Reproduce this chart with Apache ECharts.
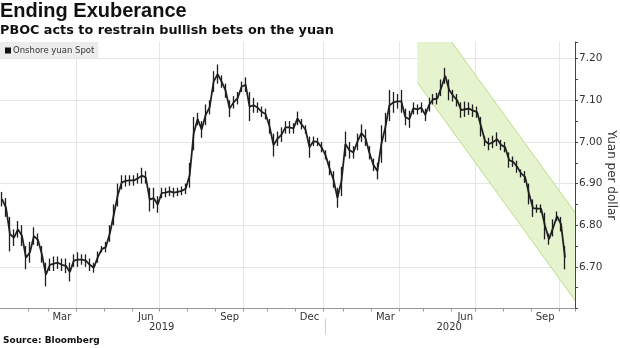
<!DOCTYPE html>
<html><head><meta charset="utf-8">
<script src="https://cdn.jsdelivr.net/npm/echarts@6/dist/echarts.min.js"></script>
<style>html,body{margin:0;padding:0;background:#fff}#c{width:620px;height:348px}</style>
</head><body><div id="c"></div>
<script>
const monthNames = ['Jan','Feb','Mar','Apr','May','Jun','Jul','Aug','Sep','Oct','Nov','Dec'];
// samples (columns) per month, Jan 2019 .. Oct 2020 (trading-day spaced axis)
const monthSamples = [7,5,7,7,7,7,7,7,7,6,7,7, 5,7,7,6,7,6,7,7,7,4];
const startYear = 2019;
const labelMonths = ['Mar','Jun','Sep','Dec'];
const gridMonths = ['Jan','Apr','Jul','Oct'];
const seriesName = 'Onshore yuan Spot';

const lo = [
6.845,6.82,6.737,6.75,6.77,6.75,6.694,6.71,6.753,6.75,
6.71,6.653,6.69,6.69,6.695,6.69,6.685,6.665,6.70,6.70,
6.705,6.70,6.69,6.686,6.71,6.735,6.735,6.76,6.80,6.845,
6.886,6.893,6.895,6.895,6.90,6.90,6.90,6.833,6.84,6.83,
6.865,6.867,6.87,6.867,6.87,6.872,6.875,6.89,6.98,7.04,
7.01,7.04,7.066,7.12,7.14,7.13,7.106,7.06,7.08,7.09,
7.12,7.12,7.05,7.07,7.07,7.06,7.054,7.02,6.965,6.99,
7.0,7.02,7.02,7.02,7.04,7.03,7.02,6.962,6.99,6.99,
6.975,6.958,6.92,6.89,6.842,6.87,6.965,6.96,6.96,6.98,
7.0,6.99,6.958,6.93,6.91,6.95,7.0,7.05,7.07,7.08,
7.07,7.04,7.034,7.066,7.066,7.07,7.05,7.073,7.09,7.09,
7.11,7.14,7.10,7.097,7.085,7.058,7.06,7.065,7.06,7.058,
7.013,6.99,6.98,6.985,6.99,6.98,6.975,6.938,6.94,6.926,
6.915,6.902,6.85,6.82,6.83,6.83,6.766,6.753,6.773,6.81,
6.785,6.694,null,null];
const hi = [
6.88,6.865,6.82,6.79,6.81,6.80,6.75,6.76,6.795,6.78,
6.75,6.71,6.72,6.725,6.725,6.72,6.72,6.71,6.73,6.735,
6.73,6.73,6.72,6.71,6.737,6.75,6.76,6.80,6.85,6.90,
6.92,6.92,6.92,6.92,6.925,6.938,6.93,6.89,6.89,6.87,
6.89,6.89,6.893,6.89,6.89,6.893,6.90,6.95,7.06,7.07,
7.05,7.09,7.10,7.17,7.186,7.16,7.14,7.10,7.11,7.12,
7.145,7.155,7.12,7.106,7.095,7.085,7.08,7.055,7.02,7.025,
7.035,7.05,7.05,7.045,7.073,7.055,7.04,7.013,7.013,7.01,
7.0,6.98,6.955,6.93,6.89,6.94,7.025,7.0,6.99,7.02,
7.042,7.03,6.99,6.96,6.95,7.04,7.07,7.125,7.12,7.115,
7.125,7.08,7.075,7.095,7.09,7.095,7.08,7.106,7.115,7.118,
7.15,7.178,7.15,7.125,7.115,7.095,7.097,7.095,7.09,7.085,
7.06,7.013,7.01,7.015,7.023,7.005,7.0,6.975,6.965,6.955,
6.934,6.93,6.90,6.862,6.85,6.85,6.83,6.78,6.814,6.833,
6.82,6.75,null,null];

// downward channel (parallelogram), x in column units
const bandX = [103.5, 143.5];
const bandLower = [7.143, 6.613];
const bandUpper = [7.354, 6.824];

// build category table
const categories = [];
const tickSet = new Set(), gridSet = new Set(), labelMap = {}, yearMap = {};
let sepIdx = 0;
const yearRange = {};
let idx = 0;
monthSamples.forEach((c, m) => {
  const year = startYear + Math.floor(m / 12);
  const name = monthNames[m % 12];
  if (idx > 0) tickSet.add(idx);
  if (idx > 0 && gridMonths.includes(name)) gridSet.add(idx);
  if (labelMonths.includes(name)) labelMap[idx + Math.floor(c / 2)] = name;
  if (!yearRange[year]) yearRange[year] = [idx, idx + c];
  yearRange[year][1] = idx + c;
  if (m === 12) sepIdx = idx;
  for (let k = 0; k < c; k++) {
    categories.push(year + '-' + String(m % 12 + 1).padStart(2, '0') + '-' + (k + 1));
  }
  idx += c;
});
Object.keys(yearRange).forEach(y => {
  const r = yearRange[y];
  yearMap[Math.floor((r[0] + r[1]) / 2)] = y;
});

const candle = lo.map((l, i) => (l == null ? '-' : [l, hi[i], l, hi[i]]));
const mid = lo.map((l, i) => (l == null ? '-' : (l + hi[i]) / 2));
const Y_MIN = 6.60, Y_MAX = 7.24;

const chart = echarts.init(document.getElementById('c'), null, {renderer: 'canvas'});
const FONT = 'DejaVu Sans';
chart.setOption({
  animation: false,
  backgroundColor: '#fff',
  title: [
    {text: 'Ending Exuberance', left: 0, top: 1, padding: 0,
     textStyle: {fontFamily: 'Liberation Sans', fontWeight: 'bold', fontSize: 20, color: '#111'}},
    {text: 'PBOC acts to restrain bullish bets on the yuan', left: 0, top: 24, padding: 0,
     textStyle: {fontFamily: FONT, fontWeight: 'bold', fontSize: 12.8, color: '#111'}},
    {text: 'Source: Bloomberg', left: 3, top: 336, padding: 0,
     textStyle: {fontFamily: FONT, fontWeight: 'bold', fontSize: 9, color: '#111'}}
  ],
  legend: {
    left: 0, top: 42, padding: [4, 4, 3, 5], backgroundColor: '#ececec',
    itemWidth: 6, itemHeight: 6, itemGap: 0, selectedMode: false,
    data: [{name: seriesName, icon: 'rect', itemStyle: {color: '#111', borderWidth: 0}}],
    textStyle: {fontFamily: FONT, fontSize: 8.5, color: '#333', padding: [0, 0, 0, -3]}
  },
  grid: {left: 0, right: 45, top: 42, bottom: 39.5, containLabel: false, outerBoundsMode: 'none'},
  xAxis: [
    {
      type: 'category', data: categories, boundaryGap: true,
      axisLine: {show: true, lineStyle: {color: '#999', width: 1}},
      axisTick: {show: true, length: 3, lineStyle: {color: '#999'}, interval: (i) => tickSet.has(i)},
      axisLabel: {interval: (i) => labelMap[i] !== undefined, formatter: (v, i) => labelMap[i] || '',
        margin: 4, fontFamily: FONT, fontSize: 10, color: '#333'},
      splitLine: {show: true, interval: (i) => gridSet.has(i), lineStyle: {color: '#e6e6e6', width: 1}}
    },
    {
      type: 'category', data: categories, boundaryGap: true, position: 'bottom', offset: 10,
      axisLine: {show: false},
      axisTick: {show: false},
      axisLabel: {interval: (i) => yearMap[i] !== undefined, formatter: (v, i) => yearMap[i] || '',
        margin: 4, fontFamily: FONT, fontSize: 10, color: '#333'},
      splitLine: {show: false}
    }
  ],
  yAxis: {
    type: 'value', position: 'right', min: Y_MIN, max: Y_MAX, interval: 0.1,
    name: 'Yuan per dollar', nameLocation: 'middle', nameRotate: -90, nameGap: 30,
    nameMoveOverlap: false,
    nameTextStyle: {fontFamily: FONT, fontSize: 12, color: '#333'},
    axisLine: {show: true, lineStyle: {color: '#444'}},
    axisTick: {show: true, length: 3, lineStyle: {color: '#444'}},
    minorTick: {show: true, splitNumber: 2, length: 3, lineStyle: {color: '#444'}},
    axisLabel: {margin: 4, fontFamily: FONT, fontSize: 10.5, color: '#333',
      formatter: (v) => {
        const r = Math.round(v * 10) / 10;
        return (Math.abs(v - r) < 1e-6 && v > 6.65) ? v.toFixed(2) : '';
      }},
    splitLine: {show: true, showMinLine: false, showMaxLine: false, lineStyle: {color: '#e6e6e6'}}
  },
  series: [
    {
      type: 'custom', name: 'channel', coordinateSystem: 'cartesian2d', clip: true, z: 1,
      silent: true,
      data: [[bandX[0], bandLower[0]]],
      renderItem: (params, api) => {
        const a = api.coord([bandX[0], bandLower[0]]);
        const b = api.coord([bandX[1], bandLower[1]]);
        const c = api.coord([bandX[1], bandUpper[1]]);
        const d = api.coord([bandX[0], bandUpper[0]]);
        return {type: 'group', children: [
          {type: 'polygon', shape: {points: [a, b, c, d]}, style: {fill: '#e6f3cf', stroke: null}},
          {type: 'line', shape: {x1: a[0], y1: a[1], x2: b[0], y2: b[1]}, style: {stroke: '#bcdc86', lineWidth: 1}},
          {type: 'line', shape: {x1: d[0], y1: d[1], x2: c[0], y2: c[1]}, style: {stroke: '#bcdc86', lineWidth: 1}}
        ]};
      }
    },
    {
      // year separator below the axis, at the boundary before January 2020
      type: 'custom', name: 'yearSep', coordinateSystem: 'cartesian2d', clip: false, z: 1,
      silent: true,
      data: [[sepIdx - 0.5, Y_MIN]],
      renderItem: (params, api) => {
        const p = api.coord([sepIdx - 0.5, Y_MIN]);
        const x = Math.round(p[0]) + 0.5;
        return {type: 'line', shape: {x1: x, y1: p[1] + 10, x2: x, y2: p[1] + 26},
          style: {stroke: '#cccccc', lineWidth: 1}};
      }
    },
    {
      type: 'candlestick', name: seriesName, data: candle, z: 3, barWidth: 1,
      itemStyle: {color: '#1e1e1e', color0: '#1e1e1e', borderColor: '#1e1e1e', borderColor0: '#1e1e1e', borderWidth: 1.3}
    },
    {
      type: 'line', name: 'mid', data: mid, z: 3, symbol: 'none', connectNulls: false,
      lineStyle: {color: '#222', width: 1.8}, silent: true
    }
  ]
});
</script>
</body></html>
